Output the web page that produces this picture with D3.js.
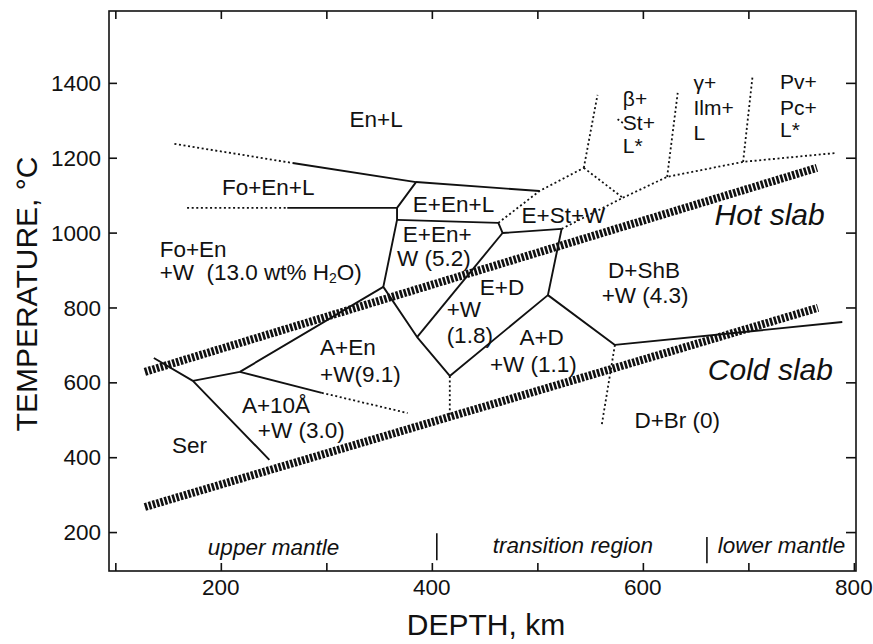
<!DOCTYPE html>
<html>
<head>
<meta charset="utf-8">
<script src="https://cdn.jsdelivr.net/npm/d3@7"></script>
<style>
  html, body { margin: 0; padding: 0; background: #fff; }
  svg { display: block; }
  text { font-family: "Liberation Sans", Arial, Helvetica, sans-serif; fill: #111; }
</style>
</head>
<body>
<svg id="chart" width="873" height="644"></svg>
<script>
// ---------------- data ----------------
const depthDomain = [94, 802];          // km
const tempDomain = [96, 1592];          // °C
const depthTicks = [100, 200, 300, 400, 500, 600, 700, 800];
const depthTickLabels = [200, 400, 600, 800];
const tempTicks = [200, 400, 600, 800, 1000, 1200, 1400];

// slab geotherms [depth, temperature]
const hotSlab = [[128, 628], [765, 1173]];
const coldSlab = [[128, 267], [766, 799]];

// solid phase boundaries [depth, temperature]
const solidBoundaries = [
  [[268, 1186], [385, 1135], [502, 1111]],
  [[263, 1066], [367, 1066]],
  [[385, 1135], [367, 1066], [367, 1034], [354, 855], [386, 721], [417, 617]],
  [[367, 1034], [463, 1026], [467, 999], [523, 1010]],
  [[467, 999], [386, 721]],
  [[417, 617], [510, 833], [523, 1010]],
  [[510, 833], [573.5, 700], [789, 761]],
  [[354, 855], [218, 628], [173.5, 604]],
  [[218, 628], [295.7, 572]],
  [[136.5, 665], [173.5, 604], [246, 393]]
];

// dotted (inferred) phase boundaries
const dottedBoundaries = [
  [[156, 1237], [268, 1186]],
  [[168, 1066], [263, 1066]],
  [[295.7, 572], [377, 518]],
  [[463, 1026], [502, 1111], [544, 1173]],
  [[544, 1173], [557, 1368]],
  [[544, 1173], [581, 1093]],
  [[523, 1010], [581, 1093]],
  [[581, 1093], [623, 1149], [695, 1189], [784, 1213]],
  [[623, 1149], [633, 1373]],
  [[695, 1189], [704, 1419]],
  [[417, 617], [417, 507]],
  [[573.5, 700], [561, 486]],
  [[576, 1303], [581, 1293]]
];

// phase field labels: [text, depth, temperature]
const phaseLabels = [
  ["En+L", 322, 1282],
  ["Fo+En+L", 201, 1101],
  ["Fo+En", 142, 935],
  ["E+En+L", 382, 1055],
  ["E+En+", 372.5, 975],
  ["W (5.2)", 367, 911],
  ["E+St+W", 485, 1026],
  ["E+D", 445.5, 833],
  ["+W", 414, 775],
  ["(1.8)", 414, 705],
  ["A+D", 483, 700],
  ["+W (1.1)", 455, 628],
  ["D+ShB", 567, 879],
  ["+W (4.3)", 561, 812],
  ["A+En", 294, 673],
  ["+W(9.1)", 294, 601],
  ["A+10Å", 220, 518],
  ["+W (3.0)", 235, 451],
  ["Ser", 153.6, 411],
  ["D+Br (0)", 592, 478]
];
// stacked high-pressure labels: [text, depth, temperature]
const stackLabels = [
  ["β+", 581, 1339], ["St+", 581, 1274], ["L*", 581, 1213],
  ["γ+", 648, 1381], ["Ilm+", 648, 1314], ["L", 648, 1248],
  ["Pv+", 730, 1384], ["Pc+", 730, 1314], ["L*", 730, 1256]
];
// label with subscript water
const waterLabel = { pre: "+W\u00a0\u00a0(13.0 wt% H", sub: "2", post: "O)", d: 142, t: 874 };

const slabLabels = [["Hot slab", 668, 1021], ["Cold slab", 661.6, 606]];
const regionLabels = [["upper mantle", 187.7, 139], ["transition region", 457.8, 144], ["lower mantle", 671, 144]];
const regionBars = [[404.7, 125, 197], [660.7, 117, 187]];

// ---------------- drawing ----------------
const svg = d3.select("#chart");
const L = 109, R = 856, T = 11, B = 571;
const x = d3.scaleLinear().domain(depthDomain).range([L, R]);
const y = d3.scaleLinear().domain(tempDomain).range([B, T]);
const line = d3.line().x(p => x(p[0])).y(p => y(p[1]));
const ink = "#111";

// phase boundaries
svg.append("g").selectAll("path").data(solidBoundaries).join("path")
  .attr("d", line).attr("fill", "none").attr("stroke", ink)
  .attr("stroke-width", 1.9).attr("stroke-linejoin", "round");
svg.append("g").selectAll("path").data(dottedBoundaries).join("path")
  .attr("d", line).attr("fill", "none").attr("stroke", ink)
  .attr("stroke-width", 1.8).attr("stroke-dasharray", "2,2.6");

// slabs
svg.append("g").selectAll("path").data([hotSlab, coldSlab]).join("path")
  .attr("d", line).attr("fill", "none").attr("stroke", ink)
  .attr("stroke-width", 8).attr("stroke-dasharray", "2.6,1.5");

// frame
svg.append("rect").attr("x", L).attr("y", T).attr("width", R - L).attr("height", B - T)
  .attr("fill", "none").attr("stroke", ink).attr("stroke-width", 1.6);

// axes with inward ticks
const tk = 8;
svg.append("g").attr("transform", `translate(0,${B})`)
  .call(d3.axisTop(x).tickValues(depthTicks).tickSize(tk).tickFormat(""))
  .call(g => g.select(".domain").remove());
svg.append("g").attr("transform", `translate(0,${T})`)
  .call(d3.axisBottom(x).tickValues(depthTicks.filter(v => v < 800)).tickSize(tk).tickFormat(""))
  .call(g => g.select(".domain").remove());
svg.append("g").attr("transform", `translate(${L},0)`)
  .call(d3.axisRight(y).tickValues(tempTicks).tickSize(tk).tickFormat(""))
  .call(g => g.select(".domain").remove());
svg.append("g").attr("transform", `translate(${R},0)`)
  .call(d3.axisLeft(y).tickValues(tempTicks).tickSize(tk + 2).tickFormat(""))
  .call(g => g.select(".domain").remove());
svg.selectAll(".tick line").attr("stroke", ink).attr("stroke-width", 1.6);

// tick labels
svg.append("g").selectAll("text").data(tempTicks).join("text")
  .attr("x", L - 8).attr("y", d => y(d)).attr("dy", "0.36em")
  .attr("text-anchor", "end").style("font-size", "22.5px").text(d => d);
svg.append("g").selectAll("text").data(depthTickLabels).join("text")
  .attr("x", d => x(d)).attr("y", B + 24)
  .attr("text-anchor", "middle").style("font-size", "22.5px").text(d => d);

// axis titles
svg.append("text").attr("x", 486).attr("y", 635).attr("text-anchor", "middle")
  .style("font-size", "30px").text("DEPTH, km");
svg.append("text").attr("transform", "translate(37,294) rotate(-90)")
  .attr("text-anchor", "middle").style("font-size", "30px").text("TEMPERATURE, °C");

// phase labels
svg.append("g").selectAll("text").data(phaseLabels).join("text")
  .attr("x", d => x(d[1])).attr("y", d => y(d[2]))
  .style("font-size", "22.5px").text(d => d[0]);
svg.append("g").selectAll("text").data(stackLabels).join("text")
  .attr("x", d => x(d[1])).attr("y", d => y(d[2]))
  .style("font-size", "21px").text(d => d[0]);
const wl = svg.append("text").attr("x", x(waterLabel.d)).attr("y", y(waterLabel.t))
  .style("font-size", "22.5px");
wl.append("tspan").text(waterLabel.pre);
wl.append("tspan").attr("dy", 3).style("font-size", "14px").text(waterLabel.sub);
wl.append("tspan").attr("dy", -3).text(waterLabel.post);

// slab labels
svg.append("g").selectAll("text").data(slabLabels).join("text")
  .attr("x", d => x(d[1])).attr("y", d => y(d[2]))
  .style("font-size", "30px").style("font-style", "italic").text(d => d[0]);

// mantle region labels
svg.append("g").selectAll("text").data(regionLabels).join("text")
  .attr("x", d => x(d[1])).attr("y", d => y(d[2]))
  .style("font-size", "22.5px").style("font-style", "italic").text(d => d[0]);
svg.append("g").selectAll("line").data(regionBars).join("line")
  .attr("x1", d => x(d[0])).attr("x2", d => x(d[0]))
  .attr("y1", d => y(d[1])).attr("y2", d => y(d[2]))
  .attr("stroke", ink).attr("stroke-width", 1.6);
</script>
</body>
</html>
